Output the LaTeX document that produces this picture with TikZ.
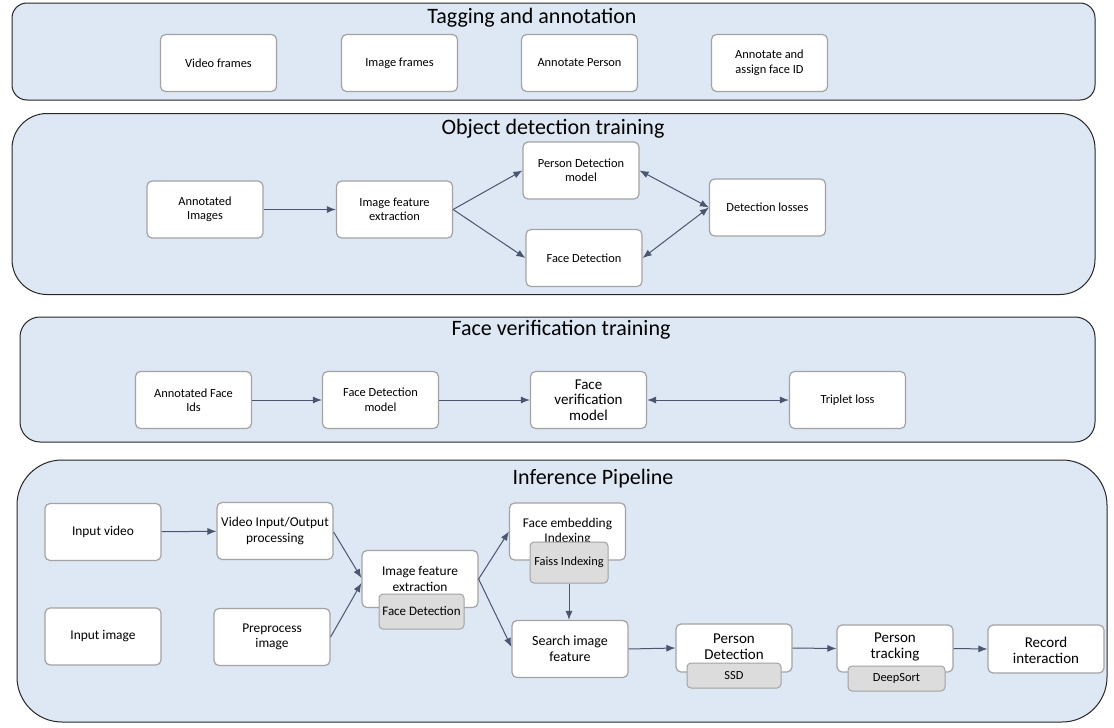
\documentclass[tikz,border=0pt]{standalone}
\usepackage{fontspec}
\setmainfont{Carlito}
\usetikzlibrary{arrows.meta}
\definecolor{panelfill}{HTML}{DEE8F4}
\definecolor{boxline}{HTML}{A3A3A3}
\definecolor{subfill}{HTML}{DCDCDC}
\definecolor{arrowc}{HTML}{4A5670}
\begin{document}
\begin{tikzpicture}[x=1pt,y=-1pt,
  panel/.style={draw=black!85, line width=1pt, fill=panelfill, inner sep=0pt},
  ptitle/.style={font=\fontsize{22}{26}\selectfont, inner sep=0pt},
  box/.style={draw=boxline, line width=1.2pt, fill=white, rounded corners=5pt, align=center,
    font=\fontsize{12.4}{14.5}\selectfont, inner sep=2pt, minimum width=116pt, minimum height=57pt},
  inf/.style={font=\fontsize{13.4}{15.5}\selectfont},
  bigtxt/.style={font=\fontsize{15}{16}\selectfont},
  txt/.style={align=center, inner sep=0pt},
  sub/.style={draw=boxline, line width=1pt, fill=subfill, rounded corners=4pt, align=center,
    font=\fontsize{12.4}{14.5}\selectfont, inner sep=1pt},
  arr/.style={draw=arrowc, line width=1pt, -{Latex[length=9pt,width=7pt]}},
  darr/.style={draw=arrowc, line width=1pt, {Latex[length=9pt,width=7pt]}-{Latex[length=9pt,width=7pt]}}]
\useasboundingbox (0,0) rectangle (1114,728);

% ---------- Panel 1
\node[panel, rounded corners=15pt, minimum width=1083pt, minimum height=97pt] (p1) at (553.5,51.5) {};
\node[ptitle] (t1) at (532,17.5) {Tagging and annotation};
\node[box] (vf) at (218.5,63) {Video frames};
\node[box] (if) at (399.5,63) {Image frames};
\node[box] (ap) at (579.5,63) {Annotate Person};
\node[box] (af) at (769.5,63) {Annotate and\\assign face ID};

% ---------- Panel 2
\node[panel, rounded corners=35pt, minimum width=1083pt, minimum height=181pt] (p2) at (553.5,204) {};
\node[ptitle] (t2) at (553,128.5) {Object detection training};
\node[box] (ai) at (205,209.5) {Annotated\\Images};
\node[box] (ife1) at (394.5,209.5) {Image feature\\extraction};
\node[box] (pdm) at (581,170.5) {Person Detection\\model};
\node[box] (fd1) at (584,258) {Face Detection};
\node[box] (dl) at (767.5,207.5) {Detection losses};
\draw[arr] (ai) -- (ife1);
\draw[arr] (ife1.east) -- (pdm.west);
\draw[arr] (ife1.east) -- (fd1.west);
\draw[darr] (pdm.east) -- (dl.west);
\draw[darr] (fd1.east) -- (dl.west);

% ---------- Panel 3
\node[panel, rounded corners=20pt, minimum width=1075pt, minimum height=125pt] (p3) at (557.5,379.5) {};
\node[ptitle] (t3) at (561,329.5) {Face verification training};
\node[box] (afi) at (193.5,400) {Annotated Face\\Ids};
\node[box] (fdm) at (380.5,400) {Face Detection\\model};
\node[box, font=\fontsize{15}{15.5}\selectfont] (fvm) at (588.5,400) {Face\\verification\\model};
\node[box] (tl) at (847.5,400) {Triplet loss};
\draw[arr] (afi) -- (fdm);
\draw[arr] (fdm) -- (fvm);
\draw[darr] (fvm) -- (tl);

% ---------- Panel 4
\node[panel, rounded corners=45pt, minimum width=1090pt, minimum height=262pt] (p4) at (562,591) {};
\node[ptitle] (t4) at (593,478.5) {Inference Pipeline};
\node[box, inf] (iv) at (103,532) {Input video};
\node[box, inf] (vio) at (275,531) {Video Input/Output\\processing};
\node[box, inf] (ii) at (103,636.5) {Input image};
\node[box, inf] (pre) at (272,637) {Preprocess\\image};
\node[box, inf] (ife) at (420,579) {Image feature\\extraction};
\node[sub, minimum width=85pt, minimum height=35pt, font=\fontsize{13}{15}\selectfont] (fds) at (421.5,611.5) {Face Detection};
\node[box, inf] (fe) at (567.5,531.5) {Face embedding\\Indexing};
\node[sub, minimum width=78pt, minimum height=41pt] (fi) at (569,562.5) {Faiss Indexing};
\node[box, font=\fontsize{14}{16}\selectfont] (sif) at (570,649) {Search image\\feature};
\node[box, minimum height=48pt] (pd) at (734,648) {};
\node[txt, bigtxt] (pdt) at (734,646.5) {Person\\Detection};
\node[sub, minimum width=94pt, minimum height=25pt] (ssd) at (734,675.5) {SSD};
\node[box, minimum height=47pt] (pt) at (895,648.5) {};
\node[txt, bigtxt] (ptt) at (895,646.5) {Person\\tracking};
\node[sub, minimum width=97pt, minimum height=25pt] (ds) at (896.5,678.5) {DeepSort};
\node[box, minimum height=48pt] (ri) at (1046,649) {};
\node[txt, bigtxt] (rit) at (1046,650) {Record\\interaction};

\draw[arr] (iv) -- (vio);
\draw[arr] ([yshift=-1pt]vio.east) -- ([yshift=1pt]ife.west);
\draw[arr] (pre.east) -- ([yshift=-4pt]ife.west);
\draw[arr] (ife.east) -- (fe.west);
\draw[arr] (ife.east) -- ([yshift=2pt]sif.west);
\draw[arr] (fi.south) -- (fi.south |- sif.north);
\draw[arr] (sif.east) -- (pd.west);
\draw[arr] (pd.east) -- (pt.west);
\draw[arr] (pt.east) -- (ri.west);
\end{tikzpicture}
\end{document}
